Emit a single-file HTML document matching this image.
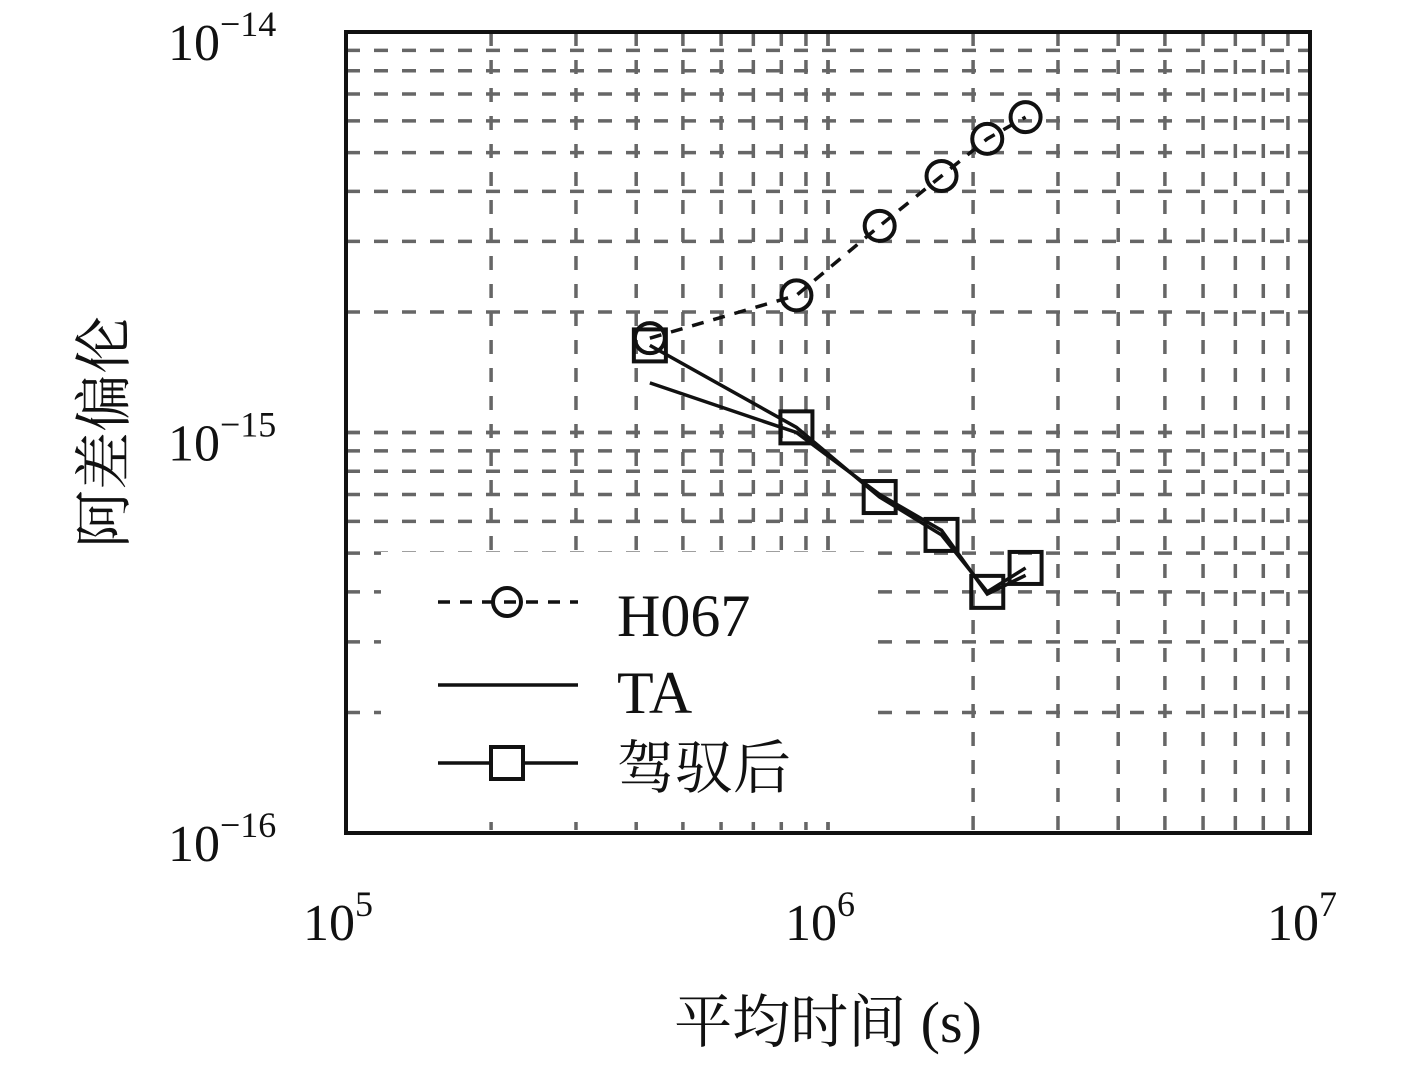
<!DOCTYPE html>
<html><head><meta charset="utf-8"><style>
html,body{margin:0;padding:0;background:#fff;}
svg{display:block;}
text{font-family:"Liberation Serif","Noto Serif CJK SC",serif;fill:#111;}
</style></head><body>
<svg id="chart" width="1417" height="1068" viewBox="0 0 1417 1068" xmlns="http://www.w3.org/2000/svg"></svg>
<script>
const categoriesTau = [4.27e5, 8.6e5, 1.28e6, 1.72e6, 2.14e6, 2.57e6];
const seriesH067 = [1.72e-15, 2.2e-15, 3.28e-15, 4.37e-15, 5.41e-15, 6.13e-15];
const seriesTA = [1.33e-15, 1.0e-15, 7.0e-16, 5.7e-16, 3.95e-16, 4.4e-16];
const seriesSteered = [1.65e-15, 1.03e-15, 6.9e-16, 5.55e-16, 4.0e-16, 4.59e-16];
const xTickExps = [5, 6, 7];
const yTickExps = [-14, -15, -16];

const X0=346,X1=1310,Y0=32,Y1=833;
const svg=document.getElementById('chart');
const NS='http://www.w3.org/2000/svg';
function xs(v){return X0+(Math.log10(v)-5)/2*(X1-X0);}
function ys(v){return Y0+(-14-Math.log10(v))/2*(Y1-Y0);}
function mk(tag,attrs,parent){const e=document.createElementNS(NS,tag);for(const k in attrs)e.setAttribute(k,attrs[k]);(parent||svg).appendChild(e);return e;}

const grid=mk('g',{});


for(let d=5;d<7;d++)for(let m=1;m<=10;m++){
  if(m===1&&d===5)continue;
  const x=xs(m*Math.pow(10,d));
  const l=mk('line',{x1:x,x2:x,y1:Y0,y2:Y1,stroke:'#666','stroke-width':3.5,'stroke-dasharray':'14 14'},grid);
  
  
}
for(let d=-16;d<-14;d++)for(let m=1;m<=10;m++){
  if(m===1&&d===-16)continue;
  const y=ys(m*Math.pow(10,d));
  const l=mk('line',{x1:X0,x2:X1,y1:y,y2:y,stroke:'#666','stroke-width':3.5,'stroke-dasharray':'14 14'},grid);
  
  
}
const lg=mk('g',{});


mk('rect',{x:381,y:552,width:497,height:270,fill:'#fff'},lg);

const box=mk('rect',{x:X0,y:Y0,width:X1-X0,height:Y1-Y0,fill:'none',stroke:'#111','stroke-width':4});



xTickExps.forEach(e=>{
  const t=mk('text',{x:xs(Math.pow(10,e))-8,y:940,'font-size':52,'text-anchor':'middle'});
  
  
  t.innerHTML='10<tspan font-size="36" dy="-24">'+e+'</tspan>';
});
yTickExps.forEach(e=>{
  const t=mk('text',{x:168,y:ys(Math.pow(10,e))+28,'font-size':52});
  
  
  t.innerHTML='10<tspan font-size="36" dy="-24">\u2212'+(-e)+'</tspan>';
});
const xl=mk('text',{x:828,y:1042,'font-size':58,'text-anchor':'middle'});


xl.textContent='平均时间 (s)';
const yl=mk('text',{x:0,y:0,'font-size':58,'text-anchor':'middle',transform:'translate(124,432) rotate(-90)'});


yl.textContent='阿差偏伦';

function pts(arr){return categoriesTau.map((t,i)=>xs(t)+','+ys(arr[i])).join(' ');}
const lh=mk('polyline',{points:pts(seriesH067),fill:'none',stroke:'#111','stroke-width':3.5,'stroke-dasharray':'12 10'});


const lt=mk('polyline',{points:pts(seriesTA),fill:'none',stroke:'#111','stroke-width':3.5});


const ls=mk('polyline',{points:pts(seriesSteered),fill:'none',stroke:'#111','stroke-width':3.5});


categoriesTau.forEach((t,i)=>{
  const c=mk('circle',{cx:xs(t),cy:ys(seriesH067[i]),r:15,fill:'none',stroke:'#111','stroke-width':4});
  
  
  const s=mk('rect',{x:xs(t)-16,y:ys(seriesSteered[i])-16,width:32,height:32,fill:'none',stroke:'#111','stroke-width':4});
  
  
});

mk('line',{x1:438,x2:578,y1:602,y2:602,stroke:'#111','stroke-width':3.5,'stroke-dasharray':'12 10'},lg);
mk('circle',{cx:507,cy:602,r:14,fill:'none',stroke:'#111','stroke-width':4},lg);
const t1=mk('text',{x:617,y:636,'font-size':60},lg);t1.textContent='H067';


mk('line',{x1:438,x2:578,y1:685,y2:685,stroke:'#111','stroke-width':3.5},lg);
const t2=mk('text',{x:617,y:713,'font-size':60},lg);t2.textContent='TA';


mk('line',{x1:438,x2:578,y1:763,y2:763,stroke:'#111','stroke-width':3.5},lg);
mk('rect',{x:491,y:747,width:32,height:32,fill:'#fff',stroke:'#111','stroke-width':4},lg);
const t3=mk('text',{x:617,y:788,'font-size':58},lg);t3.textContent='驾驭后';


</script>
</body></html>
